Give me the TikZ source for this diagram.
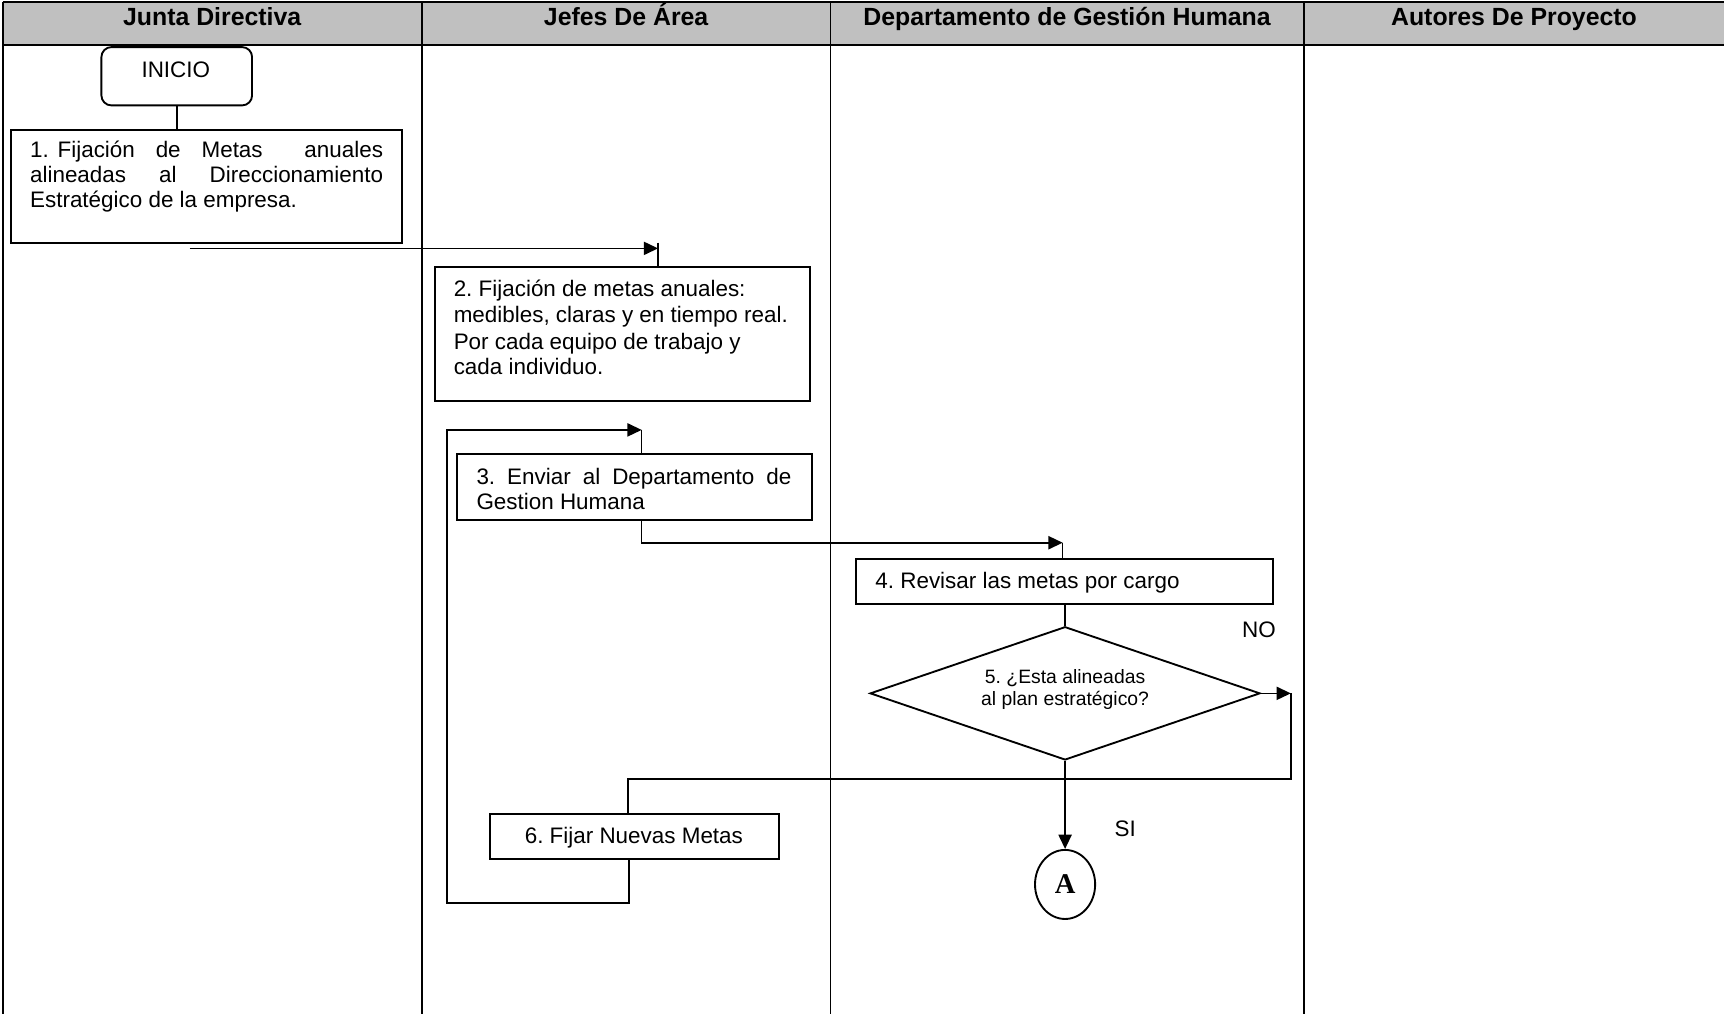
\documentclass[tikz,border=0pt]{standalone}
\usepackage{fontspec}
\setmainfont{Liberation Sans}
\newfontfamily\serifbf{Liberation Serif}
\usetikzlibrary{shapes.geometric,arrows.meta}
\definecolor{hdrgray}{HTML}{C0C0C0}
\frenchspacing

\begin{document}
\begin{tikzpicture}[x=0.5pt,y=-0.5pt,
  grid line/.style={line width=0.9pt},
  stepbox/.style={draw, line width=0.85pt, rectangle, inner sep=0pt, anchor=north west},
  txt/.style={inner sep=0pt, anchor=base west, font=\fontsize{10.2pt}{11.5pt}\selectfont},
  ctxt/.style={inner sep=0pt, anchor=base, font=\fontsize{10.2pt}{11.5pt}\selectfont},
  dtxt/.style={inner sep=0pt, anchor=base, font=\fontsize{8.8pt}{10pt}\selectfont},
  hdr/.style={inner sep=0pt, anchor=base, font=\fontsize{11.3pt}{13pt}\selectfont\bfseries},
  flow/.style={line width=0.75pt},
  arr/.style={flow, -{Triangle[length=6.5pt,width=6pt]}},
]
\useasboundingbox (0,0) rectangle (1568,922);

% swimlane table
\fill[hdrgray] (2.4,1.5) rectangle (1568,41);
\draw[grid line] (2.4,1.5) -- (1568,1.5);
\draw[grid line] (2.4,41) -- (1568,41);
\draw[grid line] (2.4,1.5) -- (2.4,922);
\draw[grid line] (383.5,1.5) -- (383.5,922);
\draw[line width=0.6pt] (755.3,1.5) -- (755.3,922);
\draw[grid line] (1186,1.5) -- (1186,922);

\node[hdr] (h1) at (193,23.6) {Junta Directiva};
\node[hdr] (h2) at (569.5,23.6) {Jefes De Área};
\node[hdr] (h3) at (970.5,23.6) {Departamento de Gestión Humana};
\node[hdr] (h4) at (1377,23.6) {Autores De Proyecto};

% start
\node[stepbox, rounded corners=4.5pt, minimum width=68.5pt, minimum height=26.5pt] (ini) at (91.4,42) {};
\node[ctxt] (iniT) at (159.9,70.5) {INICIO};

% step 1
\node[stepbox, minimum width=178pt, minimum height=51.5pt] (b1) at (9,117) {};
\node[txt] (b1a) at (27,143) {\makebox[160.5pt][s]{1.\hspace{4pt}Fijación de Metas\ \ anuales}};
\node[txt] (b1b) at (27,166) {\makebox[160.5pt][s]{alineadas al Direccionamiento}};
\node[txt] (b1c) at (27,189) {Estratégico de la empresa.};

% step 2
\node[stepbox, minimum width=170.5pt, minimum height=61pt] (b2) at (394.7,241.9) {};
\node[txt] (b2a) at (412.3,270) {2. Fijación de metas anuales:};
\node[txt] (b2b) at (412.3,293.5) {medibles, claras y en tiempo real.};
\node[txt] (b2c) at (412.3,317.5) {Por cada equipo de trabajo y};
\node[txt] (b2d) at (412.3,341) {cada individuo.};

% step 3
\node[stepbox, minimum width=161.5pt, minimum height=30.3pt] (b3) at (414.7,411.7) {};
\node[txt] (b3a) at (433,440.5) {\makebox[143.2pt][s]{3. Enviar al Departamento de}};
\node[txt] (b3b) at (433,463.2) {Gestion Humana};

% step 4
\node[stepbox, minimum width=189.8pt, minimum height=20.15pt] (b4) at (777.6,507.8) {};
\node[txt] (b4a) at (795.8,535) {4. Revisar las metas por cargo};

% decision 5
\node[diamond, draw, line width=0.85pt, inner sep=0pt, minimum width=177.35pt, minimum height=60.6pt] (d5) at (968.7,630.6) {};
\node[dtxt] (d5a) at (968.7,621.5) {5. ¿Esta alineadas};
\node[dtxt] (d5b) at (968.7,641.2) {al plan estratégico?};
\node[ctxt] (lno) at (1145,579.6) {NO};
\node[ctxt] (lsi) at (1023.5,760.4) {SI};

% step 6
\node[stepbox, minimum width=131.35pt, minimum height=20.2pt] (b6) at (445.1,739.7) {};
\node[ctxt] (b6a) at (576.5,767) {6. Fijar Nuevas Metas};

% connector A
\node[ellipse, draw, line width=0.85pt, inner sep=0pt, minimum width=27.35pt, minimum height=31.4pt,
      font=\serifbf\bfseries\fontsize{13pt}{13pt}\selectfont] (cA) at (968.7,804.4) {A};

% connectors
\draw[flow] (ini.south) -- (ini.south |- b1.north);

\coordinate (c12a) at (172.4,225.9);
\coordinate (c12b) at (598.5,225.9);
\draw[arr] (c12a) -- (c12b);
\draw[flow] ([yshift=2.6pt]c12b) -- (c12b |- b2.north);

\coordinate (k1) at (406.6,821);
\coordinate (k3) at (583.6,391);
\draw[arr] ([xshift=-2.725pt]b6.south) |- (k1) |- (k3);
\draw[flow] (k3) -- (k3 |- b3.north);

\coordinate (k4) at (966.5,493.6);
\draw[arr] (k3 |- b3.south) |- (k4);
\draw[flow] (k4) -- (k4 |- b4.north);

\draw[flow] (b4.south -| d5.north) -- (d5.north);

\coordinate (k5) at (1174,630.6);
\draw[arr] (d5.east) -- (k5);
\coordinate (k6) at (571,708.3);
\draw[flow] (k5) |- (k6) -- (k6 |- b6.north);

\draw[arr] (d5.south) -- (cA.north);
\end{tikzpicture}
\end{document}
